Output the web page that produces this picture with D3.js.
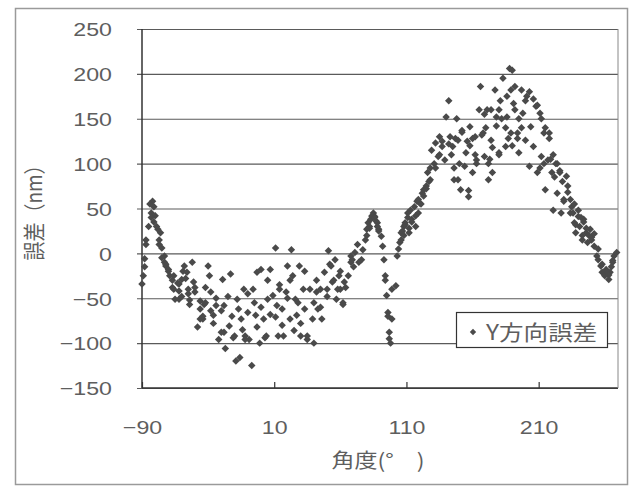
<!DOCTYPE html>
<html>
<head>
<meta charset="utf-8">
<script src="https://cdn.jsdelivr.net/npm/d3@7"></script>
<style>
  body { margin: 0; background: #fff; }
  svg { display: block; }
</style>
</head>
<body>
<script>
var W = 636, H = 486;

// angle (deg) / Y error (nm)
var angleDeg = [
  -90,-89,-88,-87,-85,-83,-82,-81,-80,-78,
  -76,-77,-75,-73,-73,-72,-70,-69,-67,-66,
  -65,-62,-62,-60,-59,-58,-56,-55,-54,-52,
  -51,-50,-48,-46,-46,-44,-43,-42,-40,-39,
  -38,-36,-34,-32,-30,-29,-28,-27,-24,-23,
  -21,-19,-18,-16,-15,-13,-12,-10,-9,-7,
  -6,-4,-3,-1,0,2,4,5,7,9,
  11,11,13,14,16,17,19,20,22,23,
  24,26,27,29,30,32,33,35,37,39,
  40,42,43,45,46,48,50,51,53,54,
  56,57,59,60,62,63,66,68,69,71,
  73,74,76,77,79,80,81,82,84,85,
  86,88,89,91,92,93,94,95,96,97,
  98,99,102,103,105,106,108,109,111,112,
  114,116,117,119,120,122,123,125,126,128,
  129,131,132,134,135,137,139,140,142,143,
  145,146,148,149,151,152,154,155,157,158,
  160,162,163,165,166,168,169,171,172,174,
  175,177,178,180,181,183,185,186,188,189,
  191,192,194,195,197,198,200,201,203,204,
  206,208,209,211,212,214,215,217,218,220,
  221,223,224,226,227,229,231,232,234,235,
  237,238,240,241,243,244,246,247,249,250,
  252,254,255,257,258,260,261,263,264,266,
  267,269,190,
  203,206,209,212,215,218,221,224,226,228,
  232,234,237,240,242,244,246,248,250,252,
  255,258,261,263,265,266,243,238,236,229,
  222,219,214,211,
  104,106,107,108,109,111,112,113,114,117,
  118,119,121,123,125,127,128,
  132,135,137,142,144,147,150,152,156,158,
  160,162,167,170,172,175,180,182,185,187,
  190,192,195,197,200,186,189,178,174,169,
  146,149,157,163,173,180,194,
  -75,-72,-70,-67,-66,-63,-62,-60,-57,-55,
  -54,-50,-46,-44,-42,-38,-36,-34,-30,-28,
  -25,-22,-20,-17,-14,-12,-10,-5,-3,0,
  3,5,7,12,14,16,20,22,25,28,
  30,33,35,40,42,45,50,52,55,58,
  60,62,64,68,70,
  -88,-87,-84,-83,-81,-79,-77,
  83,84,86,87,88,89,80,82,
  96,94,97,99
];
var errorNm = [
  -34,-25,-6,10,30,45,58,52,42,27,
  23,10,6,-3,-10,-14,-20,-25,-38,-40,
  -51,-51,-34,-29,-20,-14,-21,-40,-57,-10,
  -32,-43,-82,-53,-73,-73,-57,-38,-14,-25,
  -43,-69,-58,-96,-64,-29,-88,-106,-81,-23,
  -94,-120,-51,-116,-73,-40,-92,-66,-96,-125,
  -40,-69,-21,-100,-18,-73,-92,-51,-18,-47,
  6,-71,-92,-40,-62,-92,-43,-14,-73,4,
  -25,-51,-69,-14,-92,-40,-62,-96,-40,-73,
  -100,-43,-62,-40,-73,-21,-40,3,-14,-32,
  -7,-51,-25,-40,-57,-32,-25,-3,-7,1,
  10,-10,-7,4,15,27,34,30,41,45,
  41,34,27,19,8,-7,-25,-47,-66,-88,
  -100,-73,-36,-3,12,23,30,34,45,23,
  38,52,30,45,56,67,71,75,90,82,
  115,100,123,108,130,119,104,152,170,130,
  119,82,150,126,71,137,97,112,63,141,
  90,130,104,160,186,134,108,160,82,126,
  90,182,152,112,170,195,119,152,206,134,
  167,186,134,112,182,156,126,175,97,141,
  119,164,90,156,108,134,71,104,134,90,
  48,100,67,90,45,60,86,75,45,52,
  34,23,41,30,15,38,23,12,27,15,
  8,-3,-7,-14,-21,-25,-18,-29,-21,-10,
  -3,1,204,
  180,172,165,150,140,128,110,100,92,80,
  68,60,55,48,40,35,28,20,18,22,
  5,-12,-20,-24,-15,-8,20,32,45,58,
  85,105,100,95,
  5,15,25,20,32,40,28,48,35,42,
  58,60,55,64,72,80,95,
  95,110,125,122,110,128,100,135,125,120,
  128,110,132,140,100,118,160,150,140,128,
  120,160,150,140,170,175,182,142,160,155,
  95,82,70,100,105,110,128,
  -5,-12,-18,-30,-25,-33,-42,-48,-28,-45,
  -52,-38,-62,-70,-55,-64,-78,-50,-88,-58,
  -48,-70,-92,-62,-85,-96,-45,-55,-82,-60,
  -94,-30,-68,-58,-35,-80,-50,-30,-86,-55,
  -78,-20,-92,-55,-30,-60,-48,-12,-30,-40,
  -20,-55,-38,-10,-15,
  -15,15,55,40,35,30,15,
  38,42,40,36,30,25,20,28,
  -70,-30,-95,-40
];

var xTicks = [-90, 10, 110, 210];
var yTicks = [-150, -100, -50, 0, 50, 100, 150, 200, 250];
var legendLabel = "Y方向誤差";
var xTitle = "角度(°\u3000)";
var yTitle = "誤差（nm）";

var plot = {left: 142, top: 29, right: 618, bottom: 388};
var numFont = "'Liberation Sans', Arial, sans-serif";
var jpFont = "'Noto Sans CJK JP', sans-serif";
var textCol = "#5e5e5e";
var markCol = "#4a4a4a";

var svg = d3.select("body").append("svg")
    .attr("width", W)
    .attr("height", H);

svg.append("rect")
    .attr("width", W).attr("height", H)
    .attr("fill", "#fff");

// outer chart frame
svg.append("rect")
    .attr("x", 15.5).attr("y", 8.5)
    .attr("width", 612).attr("height", 476)
    .attr("fill", "none")
    .attr("stroke", "#9a9a9a")
    .attr("stroke-width", 1.5);

var x = d3.scaleLinear().domain([-90, 270]).range([plot.left, plot.right]);
var y = d3.scaleLinear().domain([-150, 250]).range([plot.bottom, plot.top]);

function fmt(d){ return d < 0 ? "\u2212" + Math.abs(d) : d; }

// y axis + gridlines
var gy = svg.append("g")
    .attr("transform", "translate(" + plot.left + ",0)")
    .call(d3.axisLeft(y).tickValues(yTicks).tickSize(5).tickPadding(0));
gy.select(".domain").remove();
gy.selectAll(".tick line")
    .attr("x1", -5)
    .attr("x2", plot.right - plot.left)
    .attr("stroke", "#5a5a5a")
    .attr("stroke-width", 1.2);
gy.selectAll(".tick text")
    .attr("font-family", numFont)
    .attr("font-size", 19)
    .attr("fill", textCol)
    .attr("x", -30 / 1.22)
    .attr("dy", "0.36em")
    .attr("transform", "scale(1.22,1)")
    .text(fmt);

// x axis
var gx = svg.append("g")
    .attr("transform", "translate(0," + plot.bottom + ")")
    .call(d3.axisBottom(x).tickValues(xTicks).tickSizeInner(-6).tickSizeOuter(0).tickPadding(33));
gx.select(".domain").remove();
gx.selectAll(".tick line")
    .attr("stroke", "#333")
    .attr("stroke-width", 1.2);
gx.selectAll(".tick text")
    .attr("font-family", numFont)
    .attr("font-size", 19)
    .attr("fill", textCol)
    .attr("transform", "scale(1.22,1)")
    .text(fmt);

// plot frame lines
svg.append("line")
    .attr("x1", plot.left).attr("x2", plot.left)
    .attr("y1", plot.top).attr("y2", plot.bottom)
    .attr("stroke", "#333").attr("stroke-width", 1.5);
svg.append("line")
    .attr("x1", plot.left).attr("x2", plot.right)
    .attr("y1", plot.bottom).attr("y2", plot.bottom)
    .attr("stroke", "#333").attr("stroke-width", 1.5);
svg.append("line")
    .attr("x1", plot.right).attr("x2", plot.right)
    .attr("y1", plot.top).attr("y2", plot.bottom)
    .attr("stroke", "#888").attr("stroke-width", 1);

// points
var diamond = d3.symbol().type(d3.symbolSquare).size(28);
var pts = angleDeg.map(function(a, i){ return [a, errorNm[i]]; });
svg.append("g")
    .selectAll("path")
    .data(pts)
  .enter().append("path")
    .attr("d", diamond)
    .attr("transform", function(d){
        return "translate(" + x(d[0]) + "," + y(d[1]) + ") rotate(45)";
    })
    .attr("fill", markCol);

// legend
var lg = svg.append("g").attr("transform", "translate(456,312)");
lg.append("rect")
    .attr("x", 0.5).attr("y", 0.5)
    .attr("width", 151).attr("height", 35)
    .attr("fill", "#fff")
    .attr("stroke", "#333")
    .attr("stroke-width", 1.2);
lg.append("path")
    .attr("d", d3.symbol().type(d3.symbolSquare).size(20))
    .attr("transform", "translate(17,20) rotate(45)")
    .attr("fill", markCol);
lg.append("text")
    .attr("transform", "translate(30,28) scale(1.17,1)")
    .attr("font-family", jpFont)
    .attr("font-size", 21)
    .attr("fill", textCol)
    .text(legendLabel);

// axis titles
svg.append("text")
    .attr("transform", "translate(378,468) scale(1.15,1)")
    .attr("text-anchor", "middle")
    .attr("font-family", jpFont)
    .attr("font-size", 20)
    .attr("fill", textCol)
    .text(xTitle);

svg.append("text")
    .attr("transform", "translate(42,208) rotate(-90) scale(1,1.15)")
    .attr("text-anchor", "middle")
    .attr("font-family", jpFont)
    .attr("font-size", 19)
    .attr("fill", textCol)
    .text(yTitle);
</script>
</body>
</html>
